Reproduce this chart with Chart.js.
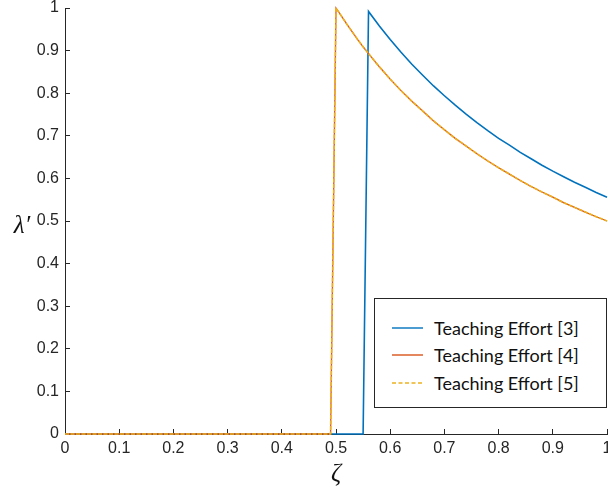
<!DOCTYPE html>
<html>
<head>
<meta charset="utf-8">
<script src="https://cdn.jsdelivr.net/npm/chart.js@4/dist/chart.umd.min.js"></script>
<style>
    html, body { margin: 0; padding: 0; background: #fff; }
    #wrap { position: relative; width: 608px; height: 492px; }
    #legendBox {
        position: absolute;
        left: 374px;
        top: 298px;
        width: 233px;
        height: 110px;
        background: #fff;
        border: 1px solid #262626;
        font-family: Lato, 'Open Sans', sans-serif;
        font-size: 18px;
        color: #111;
        padding-top: 15px;
        box-sizing: border-box;
    }
    .legend-row { display: flex; align-items: center; height: 27.5px; }
    .legend-row svg { margin-left: 17px; margin-right: 11px; }
</style>
</head>
<body>
<div id="wrap">
    <canvas id="lambdaChart" width="608" height="492"></canvas>
    <div id="legendBox"></div>
</div>
<script>
// Sample grid for ζ (shared by all three curves)
const zeta = [0, 0.49, 0.50, 0.52, 0.54, 0.55, 0.56, 0.58, 0.60, 0.62, 0.64, 0.66, 0.68, 0.70,
    0.72, 0.74, 0.76, 0.78, 0.80, 0.82, 0.84, 0.86, 0.88, 0.90, 0.92, 0.94, 0.96, 0.98, 1.00];

// λ' for Teaching Effort [3]
const effort3 = [0, 0, 0, 0, 0, 0, 0.992, 0.958, 0.926, 0.896, 0.868, 0.842, 0.817, 0.794,
    0.772, 0.751, 0.731, 0.712, 0.694, 0.678, 0.661, 0.646, 0.631, 0.617, 0.604, 0.591, 0.579, 0.567, 0.556];

// λ' for Teaching Effort [4] and [5] (same curve)
const effort4 = [0, 0, 1.000, 0.962, 0.926, 0.909, 0.893, 0.862, 0.833, 0.806, 0.781, 0.758, 0.735, 0.714,
    0.694, 0.676, 0.658, 0.641, 0.625, 0.610, 0.595, 0.581, 0.568, 0.556, 0.543, 0.532, 0.521, 0.510, 0.500];
const effort5 = effort4.slice();

const seriesLabels = ['Teaching Effort [3]', 'Teaching Effort [4]', 'Teaching Effort [5]'];
const tickValues = [0, 0.1, 0.2, 0.3, 0.4, 0.5, 0.6, 0.7, 0.8, 0.9, 1];

const axisColor = '#262626';
const tickFont = { family: "'Liberation Sans', Arial, sans-serif", size: 16 };

function toPoints(values) {
    return zeta.map((z, i) => ({ x: z, y: values[i] }));
}

// tick text like 0, 0.1, ... 1
function tickText(value) {
    return String(Number(value.toFixed(2)));
}

// Horizontal y-axis title
const yTitlePlugin = {
    id: 'yTitle',
    afterDraw(chart) {
        const ctx = chart.ctx;
        const area = chart.chartArea;
        ctx.save();
        ctx.fillStyle = '#111';
        ctx.font = "italic 25px 'Liberation Serif', serif";
        ctx.textAlign = 'center';
        ctx.textBaseline = 'middle';
        ctx.fillText('λ′', 22, (area.top + area.bottom) / 2 + 5);
        ctx.restore();
    }
};

const chart = new Chart(document.getElementById('lambdaChart'), {
    type: 'line',
    data: {
        datasets: [
            {
                label: seriesLabels[0],
                data: toPoints(effort3),
                borderColor: '#0072BD',
                borderWidth: 1.6,
                order: 3
            },
            {
                label: seriesLabels[1],
                data: toPoints(effort4),
                borderColor: '#D95319',
                borderWidth: 1.3,
                order: 2
            },
            {
                label: seriesLabels[2],
                data: toPoints(effort5),
                borderColor: '#EDB120',
                borderWidth: 1.6,
                borderDash: [4, 1.5],
                order: 1
            }
        ]
    },
    options: {
        responsive: false,
        animation: false,
        clip: false,
        elements: {
            point: { radius: 0 },
            line: { tension: 0, fill: false }
        },
        layout: { padding: { top: 8, right: 1, left: 0, bottom: 0 } },
        plugins: {
            legend: { display: false },
            tooltip: { enabled: false }
        },
        scales: {
            x: {
                type: 'linear',
                min: 0,
                max: 1,
                afterBuildTicks(scale) {
                    scale.ticks = tickValues.map(v => ({ value: v }));
                },
                afterFit(scale) {
                    scale.height = 58;
                    scale.paddingLeft = 0;
                    scale.paddingRight = 0;
                },
                border: { color: axisColor, width: 1 },
                grid: {
                    drawOnChartArea: false,
                    color: axisColor,
                    tickLength: -5
                },
                ticks: {
                    color: axisColor,
                    font: tickFont,
                    padding: 10,
                    maxRotation: 0,
                    autoSkip: false,
                    callback: tickText
                },
                title: {
                    display: true,
                    text: 'ζ',
                    color: '#111',
                    font: { family: "'Liberation Serif', serif", size: 25, style: 'italic' },
                    padding: { top: 0, bottom: 3 }
                }
            },
            y: {
                type: 'linear',
                min: 0,
                max: 1,
                afterBuildTicks(scale) {
                    scale.ticks = tickValues.map(v => ({ value: v }));
                },
                afterFit(scale) {
                    scale.width = 65;
                    scale.paddingTop = 0;
                    scale.paddingBottom = 0;
                },
                border: { color: axisColor, width: 1 },
                grid: {
                    drawOnChartArea: false,
                    color: axisColor,
                    tickLength: -5
                },
                ticks: {
                    color: axisColor,
                    font: tickFont,
                    padding: 11,
                    autoSkip: false,
                    callback: tickText
                }
            }
        }
    },
    plugins: [yTitlePlugin]
});

// Legend box inside the plot
const legendBox = document.getElementById('legendBox');
chart.data.datasets.forEach(ds => {
    const row = document.createElement('div');
    row.className = 'legend-row';
    const dash = ds.borderDash ? 'stroke-dasharray="4,2.5"' : '';
    row.innerHTML = `
        <svg width="31" height="4"><line x1="0" y1="2" x2="31" y2="2" stroke="${ds.borderColor}" stroke-width="1.4" ${dash}/></svg>
        <span>${ds.label}</span>
    `;
    legendBox.appendChild(row);
});
</script>
</body>
</html>
